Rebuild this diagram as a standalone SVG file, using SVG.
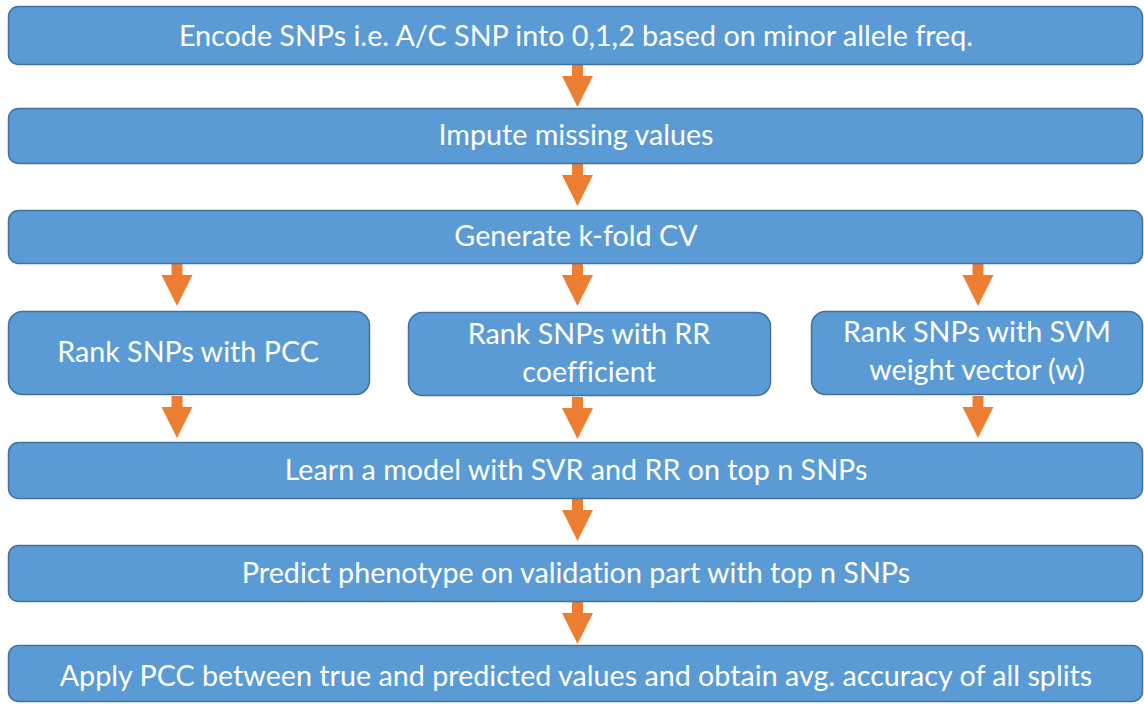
<svg xmlns="http://www.w3.org/2000/svg" width="1144" height="704" viewBox="0 0 1144 704">
<defs>
<style>
.box{fill:#5B9BD5;stroke:#41719C;stroke-width:1.5}
.t{fill:#FFFFFF;font-family:Lato,"Open Sans","Liberation Sans",sans-serif;font-size:28.7px;text-anchor:middle;font-variant-ligatures:none}
.arr{fill:#ED7D31}
</style>
<path id="ar" d="M-5.5,0 L5.5,0 L5.5,11 L15.5,11 L0,42 L-15.5,11 L-5.5,11 Z"/>
</defs>
<rect width="1144" height="704" fill="#FFFFFF"/>
<g id="connectors" class="arr">
<use href="#ar" x="577.5" y="65"/>
<use href="#ar" x="577.5" y="164"/>
<use href="#ar" x="177" y="264"/>
<use href="#ar" x="577.5" y="264"/>
<use href="#ar" x="978" y="264"/>
<use href="#ar" x="177" y="396"/>
<use href="#ar" x="577.5" y="397"/>
<use href="#ar" x="978" y="396"/>
<use href="#ar" x="577.5" y="499"/>
<use href="#ar" x="577.5" y="602"/>
</g>
<g id="n1"><rect class="box" x="8.5" y="6.5" width="1134" height="58" rx="10"/><text class="t" x="576" y="46">Encode SNPs i.e. A/C SNP into 0,1,2 based on minor allele freq.</text></g>
<g id="n2"><rect class="box" x="8.5" y="108.5" width="1134" height="55" rx="10"/><text class="t" x="576" y="145">Impute missing values</text></g>
<g id="n3"><rect class="box" x="8.5" y="210.5" width="1134" height="53" rx="10"/><text class="t" x="576" y="246">Generate k-fold CV</text></g>
<g id="n4"><rect class="box" x="8.5" y="311.5" width="361" height="83" rx="14"/><text class="t" x="188" y="362">Rank SNPs with PCC</text></g>
<g id="n5"><rect class="box" x="408.5" y="312.5" width="362" height="83" rx="14"/><text class="t" x="589" y="344">Rank SNPs with RR</text><text class="t" x="589" y="382">coefficient</text></g>
<g id="n6"><rect class="box" x="811.5" y="311.5" width="331" height="83" rx="14"/><text class="t" x="977" y="342">Rank SNPs with SVM</text><text class="t" x="977" y="380">weight vector (w)</text></g>
<g id="n7"><rect class="box" x="8.5" y="442.5" width="1134" height="56" rx="10"/><text class="t" x="576" y="480">Learn a model with SVR and RR on top n SNPs</text></g>
<g id="n8"><rect class="box" x="8.5" y="545.5" width="1134" height="56" rx="10"/><text class="t" x="576" y="583">Predict phenotype on validation part with top n SNPs</text></g>
<g id="n9"><rect class="box" x="8.5" y="645.5" width="1134" height="56" rx="10"/><text class="t" x="576" y="686">Apply PCC between true and predicted values and obtain avg. accuracy of all splits</text></g>
</svg>
